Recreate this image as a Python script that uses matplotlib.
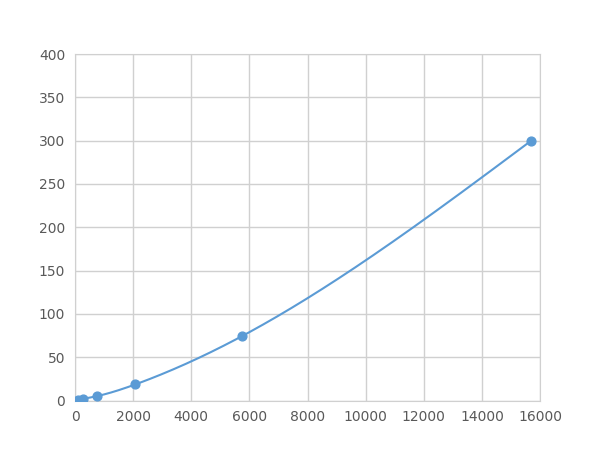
import numpy as np
import matplotlib.pyplot as plt

# standard points
conc = [100, 280, 750, 2070, 5730, 15700]
signal = [1, 2, 5, 18.5, 74, 300]

line_color = '#5B9BD5'
grid_color = '#D0D0D0'
text_color = '#595959'


def natural_spline(x, y, n=400):
    x = np.asarray(x, float)
    y = np.asarray(y, float)
    k = len(x)
    h = np.diff(x)
    A = np.zeros((k, k))
    r = np.zeros(k)
    A[0, 0] = A[-1, -1] = 1
    for i in range(1, k - 1):
        A[i, i - 1] = h[i - 1]
        A[i, i] = 2 * (h[i - 1] + h[i])
        A[i, i + 1] = h[i]
        r[i] = 6 * ((y[i + 1] - y[i]) / h[i] - (y[i] - y[i - 1]) / h[i - 1])
    m = np.linalg.solve(A, r)
    xs = np.linspace(x[0], x[-1], n)
    j = np.clip(np.searchsorted(x, xs) - 1, 0, k - 2)
    a = x[j + 1] - xs
    b = xs - x[j]
    hj = h[j]
    ys = (m[j] * a ** 3 / (6 * hj) + m[j + 1] * b ** 3 / (6 * hj)
          + (y[j] / hj - m[j] * hj / 6) * a + (y[j + 1] / hj - m[j + 1] * hj / 6) * b)
    return xs, ys


fig, ax = plt.subplots(figsize=(6, 4.5), dpi=100)
fig.subplots_adjust(left=0.125, right=0.9, top=0.88, bottom=0.11)

xs, ys = natural_spline(conc, signal)
ax.plot(xs, ys, color=line_color, linewidth=1.5, zorder=3)
ax.scatter(conc, signal, s=40, color=line_color, zorder=4)

ax.set_xlim(0, 16000)
ax.set_ylim(0, 400)
ax.set_xticks(range(0, 16001, 2000))
ax.set_yticks(range(0, 401, 50))
ax.grid(True, color=grid_color, linewidth=1)
ax.set_axisbelow(True)
for s in ax.spines.values():
    s.set_color(grid_color)
ax.tick_params(length=0, colors=text_color, labelsize=10, pad=7)

plt.savefig('out.png')
